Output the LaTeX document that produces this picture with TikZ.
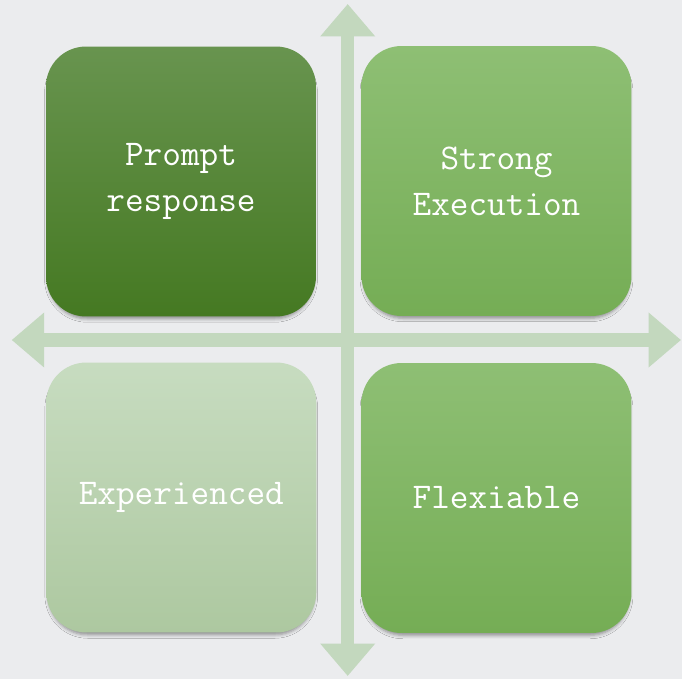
\documentclass[tikz,border=0pt]{standalone}
\usepackage{tikz}
\usetikzlibrary{arrows.meta,shadows.blur}

\definecolor{bgc}{HTML}{EBECEE}
\definecolor{axisc}{HTML}{C3D8BE}
\definecolor{darktop}{HTML}{68944F}
\definecolor{darkbot}{HTML}{457922}
\definecolor{midtop}{HTML}{8EBF74}
\definecolor{midbot}{HTML}{75AD55}
\definecolor{paletop}{HTML}{C7DCC0}
\definecolor{palebot}{HTML}{ADC8A0}

\begin{document}
\begin{tikzpicture}[x=0.02cm, y=-0.02cm,
	quad/.style={rounded corners=0.8cm, minimum size=5.4cm, inner sep=0pt,
		align=center, text=white, font=\ttfamily\fontsize{20.6}{26}\selectfont,
		blur shadow={shadow xshift=0pt, shadow yshift=-2.5pt, shadow scale=0.985, shadow blur radius=2pt, shadow opacity=40}},
	axis/.style={axisc, line width=0.266cm, {Triangle[width=1.06cm, length=0.65cm]}-{Triangle[width=1.06cm, length=0.65cm]}}]
	\useasboundingbox (0,0) rectangle (682,679);
	\fill[bgc] (0,0) rectangle (682,679);
	% axes
	\coordinate (n) at (347.7,4);
	\coordinate (s) at (347.7,676);
	\coordinate (w) at (11.7,340);
	\coordinate (e) at (681,340);
	\draw[axis] (s) -- (n);
	\draw[axis] (w) -- (e);
	% quadrants
	\node[quad, top color=darktop, bottom color=darkbot] (prompt) at (181,181.5) {Prompt\\response};
	\node[quad, top color=midtop, bottom color=midbot] (strong) at (496.5,181) {Strong\\Execution};
	\node[quad, top color=paletop, bottom color=palebot] (exper) at (181.3,497.5) {Experienced};
	\node[quad, top color=midtop, bottom color=midbot] (flex) at (496.5,498) {Flexiable};
\end{tikzpicture}
\end{document}
